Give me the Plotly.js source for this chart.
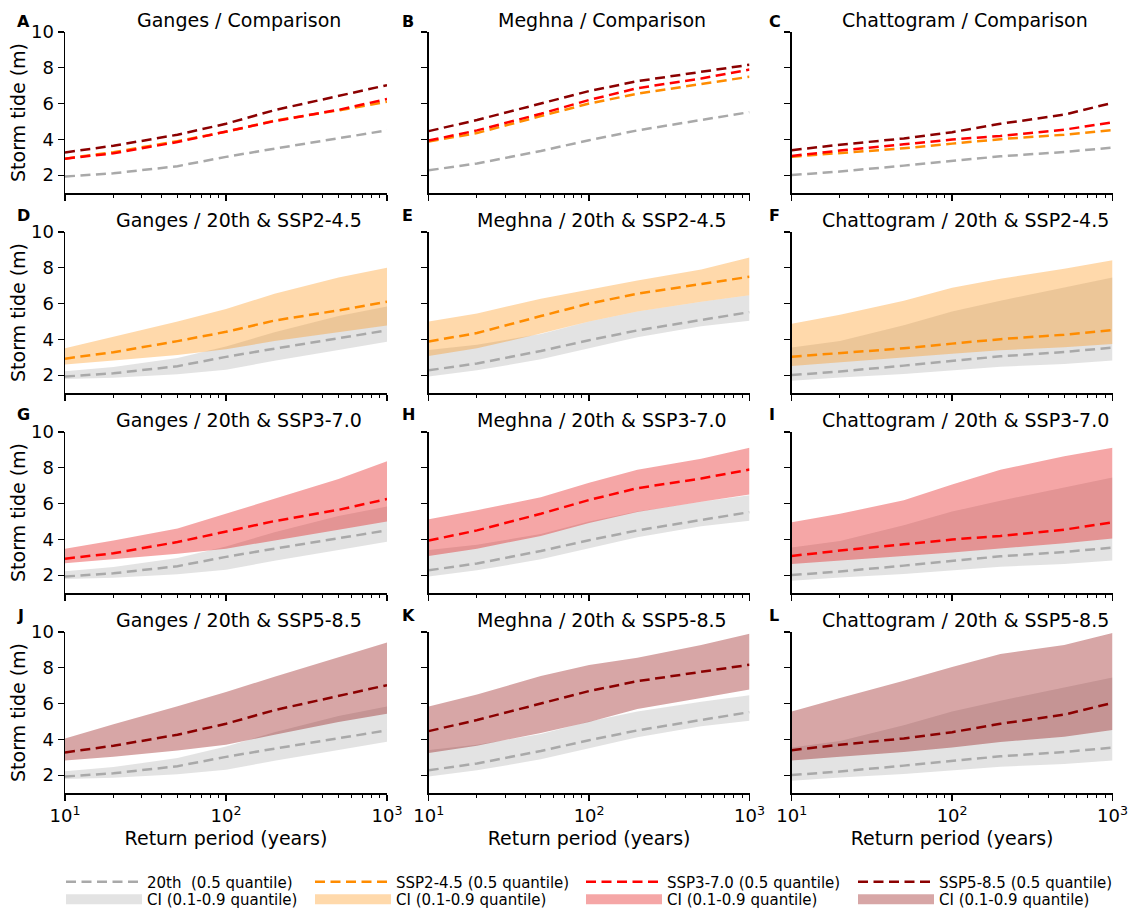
<!DOCTYPE html>
<html><head><meta charset="utf-8">
<script src="https://cdn.plot.ly/plotly-3.0.1.min.js"></script>
<style>html,body{margin:0;padding:0;background:#fff}#chart{width:1129px;height:910px}</style>
</head><body><div id="chart"></div>
<script>
// ---------------- data ----------------
const returnPeriod = [10, 20, 50, 100, 200, 500, 1000];
const locations = ['Ganges', 'Meghna', 'Chattogram'];
const rowNames = ['Comparison', '20th & SSP2-4.5', '20th & SSP3-7.0', '20th & SSP5-8.5'];
const panelLetters = ['A','B','C','D','E','F','G','H','I','J','K','L'];
const xTickVals = [10, 100, 1000];
const xTickText = ['10<sup>1</sup>', '10<sup>2</sup>', '10<sup>3</sup>'];
const xMinorTicks = [20,30,40,50,60,70,80,90,200,300,400,500,600,700,800,900];
const yTickVals = [2, 4, 6, 8, 10];
const scenarioNames = ['20th\u00a0 (0.5 quantile)', 'SSP2-4.5 (0.5 quantile)', 'SSP3-7.0 (0.5 quantile)', 'SSP5-8.5 (0.5 quantile)'];
const ciName = 'CI (0.1-0.9 quantile)';

// Ganges
const ganges20Med  = [1.92, 2.10, 2.50, 3.02, 3.48, 4.07, 4.50];
const ganges20Lo   = [1.78, 1.85, 2.05, 2.30, 2.80, 3.40, 3.87];
const ganges20Hi   = [2.22, 2.45, 2.95, 3.60, 4.40, 5.30, 5.83];
const ganges245Med = [2.92, 3.28, 3.90, 4.42, 5.05, 5.62, 6.10];
const ganges245Lo  = [2.60, 2.82, 3.12, 3.45, 3.90, 4.40, 4.77];
const ganges245Hi  = [3.50, 4.15, 5.00, 5.70, 6.55, 7.45, 8.00];
const ganges370Med = [2.92, 3.22, 3.85, 4.42, 5.02, 5.65, 6.25];
const ganges370Lo  = [2.66, 2.90, 3.20, 3.48, 3.93, 4.54, 5.00];
const ganges370Hi  = [3.48, 3.93, 4.60, 5.43, 6.25, 7.37, 8.36];
const ganges585Med = [3.27, 3.64, 4.26, 4.87, 5.63, 6.41, 7.03];
const ganges585Lo  = [2.82, 3.03, 3.37, 3.70, 4.26, 4.97, 5.43];
const ganges585Hi  = [4.05, 4.85, 5.85, 6.65, 7.50, 8.60, 9.42];
// Meghna
const meghna20Med  = [2.27, 2.65, 3.35, 3.95, 4.50, 5.08, 5.52];
const meghna20Lo   = [1.92, 2.27, 2.88, 3.50, 4.11, 4.73, 5.04];
const meghna20Hi   = [3.40, 3.70, 4.30, 5.00, 5.55, 6.10, 6.47];
const meghna245Med = [3.88, 4.35, 5.30, 6.00, 6.55, 7.10, 7.50];
const meghna245Lo  = [3.07, 3.50, 4.32, 5.00, 5.55, 6.10, 6.47];
const meghna245Hi  = [5.00, 5.45, 6.27, 6.78, 7.29, 7.90, 8.58];
const meghna370Med = [3.93, 4.50, 5.43, 6.20, 6.86, 7.40, 7.90];
const meghna370Lo  = [3.07, 3.48, 4.19, 4.91, 5.53, 6.10, 6.51];
const meghna370Hi  = [5.12, 5.63, 6.35, 7.17, 7.89, 8.50, 9.12];
const meghna585Med = [4.46, 5.08, 6.00, 6.70, 7.25, 7.75, 8.17];
const meghna585Lo  = [3.23, 3.64, 4.36, 4.97, 5.69, 6.31, 6.78];
const meghna585Hi  = [5.84, 6.51, 7.54, 8.15, 8.56, 9.28, 9.90];
// Chattogram
const chatto20Med  = [2.00, 2.20, 2.53, 2.78, 3.05, 3.29, 3.54];
const chatto20Lo   = [1.69, 1.86, 2.06, 2.27, 2.47, 2.62, 2.82];
const chatto20Hi   = [3.54, 3.90, 4.79, 5.55, 6.16, 6.88, 7.46];
const chatto245Med = [3.03, 3.23, 3.50, 3.76, 4.01, 4.26, 4.52];
const chatto245Lo  = [2.51, 2.74, 2.98, 3.19, 3.39, 3.56, 3.74];
const chatto245Hi  = [4.87, 5.38, 6.16, 6.88, 7.39, 7.95, 8.42];
const chatto370Med = [3.07, 3.37, 3.72, 3.99, 4.19, 4.54, 4.95];
const chatto370Lo  = [2.62, 2.82, 3.07, 3.27, 3.48, 3.78, 4.05];
const chatto370Hi  = [4.95, 5.43, 6.18, 7.07, 7.89, 8.65, 9.12];
const chatto585Med = [3.39, 3.70, 4.05, 4.40, 4.87, 5.38, 6.04];
const chatto585Lo  = [2.82, 3.03, 3.29, 3.54, 3.85, 4.15, 4.52];
const chatto585Hi  = [5.55, 6.31, 7.27, 8.05, 8.77, 9.28, 9.94];

// ---------------- lookup built from the arrays ----------------
const series = [
  [ // Ganges
    {med: ganges20Med, lo: ganges20Lo, hi: ganges20Hi},
    {med: ganges245Med, lo: ganges245Lo, hi: ganges245Hi},
    {med: ganges370Med, lo: ganges370Lo, hi: ganges370Hi},
    {med: ganges585Med, lo: ganges585Lo, hi: ganges585Hi}
  ],
  [ // Meghna
    {med: meghna20Med, lo: meghna20Lo, hi: meghna20Hi},
    {med: meghna245Med, lo: meghna245Lo, hi: meghna245Hi},
    {med: meghna370Med, lo: meghna370Lo, hi: meghna370Hi},
    {med: meghna585Med, lo: meghna585Lo, hi: meghna585Hi}
  ],
  [ // Chattogram
    {med: chatto20Med, lo: chatto20Lo, hi: chatto20Hi},
    {med: chatto245Med, lo: chatto245Lo, hi: chatto245Hi},
    {med: chatto370Med, lo: chatto370Lo, hi: chatto370Hi},
    {med: chatto585Med, lo: chatto585Lo, hi: chatto585Hi}
  ]
];

// ---------------- styles ----------------
const lineColors = ['#a9a9a9', '#ff8c00', '#ff0000', '#8b0000'];
const fillColors = ['rgba(169,169,169,0.33)', 'rgba(255,140,0,0.33)', 'rgba(225,0,0,0.35)', 'rgba(139,0,0,0.35)'];
const DASH = '10px,5.5px';
const FONT = 'DejaVu Sans, Liberation Sans, sans-serif';
const W = 1129, H = 910;
const colX = [[65, 387], [428.7, 749.5], [791.7, 1112.5]];
const rowY = [[32, 193], [232, 393], [432, 593], [632, 793]];
const px2x = p => p / W;
const px2y = p => 1 - p / H;

const traces = [];
const layout = {
  width: W, height: H,
  margin: {l: 0, r: 0, t: 0, b: 0, autoexpand: false},
  paper_bgcolor: '#fff', plot_bgcolor: '#fff',
  font: {family: FONT, size: 18, color: '#000'},
  annotations: [],
  hovermode: false
};

const revX = returnPeriod.slice().reverse();

for (let r = 0; r < 4; r++) {
  for (let c = 0; c < 3; c++) {
    const i = r * 3 + c + 1;
    const xa = 'x' + (i === 1 ? '' : i), ya = 'y' + (i === 1 ? '' : i);
    const xk = 'xaxis' + (i === 1 ? '' : i), yk = 'yaxis' + (i === 1 ? '' : i);
    const S = series[c];
    if (r === 0) {
      for (let s = 0; s < 4; s++) {
        traces.push({type: 'scatter', mode: 'lines', x: returnPeriod, y: S[s].med, xaxis: xa, yaxis: ya,
          line: {color: lineColors[s], width: 2.5, dash: DASH}, showlegend: false, hoverinfo: 'skip'});
      }
    } else {
      for (const s of [0, r]) {
        traces.push({type: 'scatter', mode: 'lines', x: returnPeriod.concat(revX),
          y: S[s].hi.concat(S[s].lo.slice().reverse()), xaxis: xa, yaxis: ya,
          fill: 'toself', fillcolor: fillColors[s], line: {width: 0, color: fillColors[s]},
          showlegend: false, hoverinfo: 'skip'});
      }
      for (const s of [0, r]) {
        traces.push({type: 'scatter', mode: 'lines', x: returnPeriod, y: S[s].med, xaxis: xa, yaxis: ya,
          line: {color: lineColors[s], width: 2.5, dash: DASH}, showlegend: false, hoverinfo: 'skip'});
      }
    }
    const bottom = r === 3, left = c === 0;
    layout[xk] = {
      type: 'log', range: [1, 3], domain: [px2x(colX[c][0]), px2x(colX[c][1])], anchor: ya,
      showline: true, linecolor: '#000', linewidth: 1.5, showgrid: false, zeroline: false,
      ticks: 'outside', ticklen: 6, tickwidth: 1.2, tickcolor: '#000',
      tickmode: 'array', tickvals: xTickVals, ticktext: xTickText,
      showticklabels: bottom, tickfont: {size: 18, family: FONT, color: '#000'},
      minor: {tickmode: 'array', tickvals: xMinorTicks, ticks: 'outside', ticklen: 3.5, tickwidth: 1, tickcolor: '#000', showgrid: false},
      fixedrange: true
    };
    if (bottom) layout[xk].title = {text: 'Return period (years)', font: {size: 19, family: FONT, color: '#000'}, standoff: 6};
    layout[yk] = {
      range: [1, 10], domain: [px2y(rowY[r][1]), px2y(rowY[r][0])], anchor: xa,
      showline: true, linecolor: '#000', linewidth: 1.5, showgrid: false, zeroline: false,
      ticks: 'outside', ticklen: 6, tickwidth: 1.2, tickcolor: '#000',
      tickmode: 'array', tickvals: yTickVals, showticklabels: left,
      tickfont: {size: 18, family: FONT, color: '#000'}, fixedrange: true
    };
    if (left) layout[yk].title = {text: 'Storm tide (m)', font: {size: 19, family: FONT, color: '#000'}, standoff: 0};

    // subplot title
    const titleCx = [239, 602, 965][c];
    layout.annotations.push({text: locations[c] + ' / ' + rowNames[r], xref: 'paper', yref: 'paper',
      x: px2x(titleCx), y: px2y(rowY[r][0] - 12), xanchor: 'center', yanchor: 'middle', showarrow: false,
      font: {size: 19, family: FONT, color: '#000'}});
    // panel letter
    const letterX = [15, 400, 767][c];
    const letterY = r === 0 ? 21 : rowY[r][0] - 17;
    layout.annotations.push({text: '<b>' + panelLetters[i - 1] + '</b>', xref: 'paper', yref: 'paper',
      x: px2x(letterX), y: px2y(letterY), xanchor: 'left', yanchor: 'middle', showarrow: false,
      font: {size: 16, family: FONT, color: '#000'}});
  }
}

// ---------------- legends (one per entry) ----------------
const legendSampleX = [66, 315, 586, 858];
const legendRowY = [882, 899.5];
let legIdx = 1;
for (let s = 0; s < 4; s++) {
  for (let k = 0; k < 2; k++) {
    const key = 'legend' + (legIdx === 1 ? '' : legIdx);
    layout[key] = {x: px2x(legendSampleX[s] - 5), y: px2y(legendRowY[k]), xref: 'paper', yref: 'paper',
      xanchor: 'left', yanchor: 'middle', orientation: 'v', bgcolor: 'rgba(0,0,0,0)', borderwidth: 0,
      itemwidth: 76, font: {size: 15, family: FONT, color: '#000'}, itemclick: false, itemdoubleclick: false};
    if (k === 0) {
      traces.push({type: 'scatter', mode: 'lines', x: [null], y: [null], name: scenarioNames[s],
        line: {color: lineColors[s], width: 2.5, dash: DASH}, legend: key, showlegend: true, hoverinfo: 'skip'});
    } else {
      traces.push({type: 'scatter', mode: 'lines', x: [null], y: [null], name: ciName,
        line: {color: fillColors[s], width: 10}, legend: key, showlegend: true, hoverinfo: 'skip'});
    }
    legIdx++;
  }
}

Plotly.newPlot('chart', traces, layout, {staticPlot: true, displayModeBar: false});
</script>
</body></html>
